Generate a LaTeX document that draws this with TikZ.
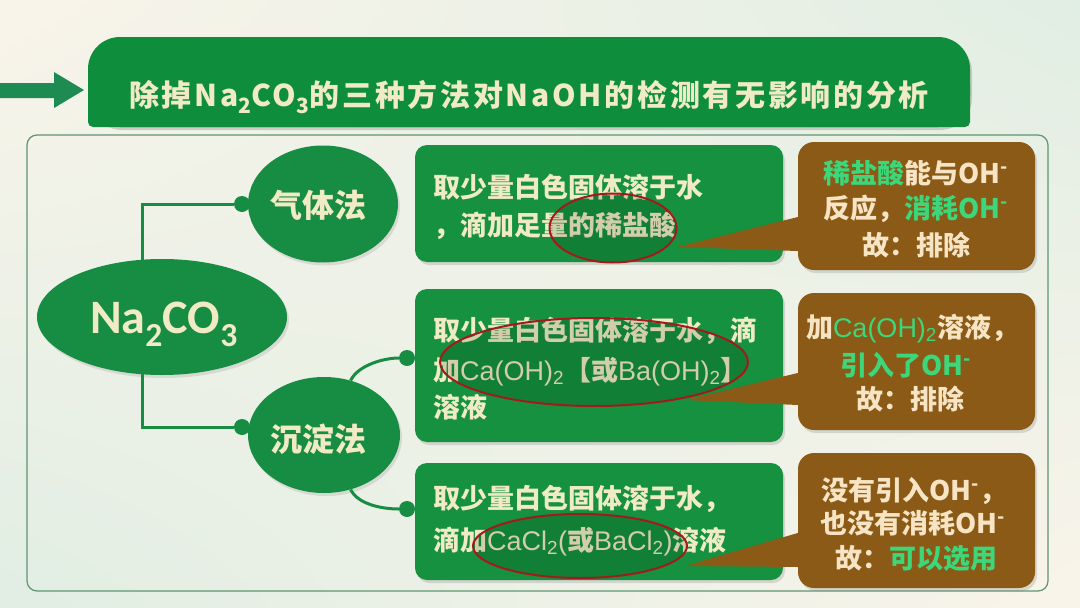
\documentclass[tikz,border=0pt]{standalone}
\usepackage{fontspec}
\setmainfont{Noto Sans CJK SC}
\newfontfamily\lat{Liberation Sans}
\newfontfamily\calfont{Carlito}
\newfontfamily\titlefont{Noto Sans CJK SC}[LetterSpace=9]
\usetikzlibrary{shapes.geometric,shadows,shadings}
\definecolor{bgCream}{HTML}{F9F4EA}
\definecolor{bgGreen}{HTML}{E1EEE3}
\definecolor{gboxc}{HTML}{15913F}
\definecolor{gdark}{HTML}{0E8E3D}
\definecolor{ell}{HTML}{178C43}
\definecolor{brn}{HTML}{8A5A16}
\definecolor{cream}{HTML}{F0EBC4}
\definecolor{ctextc}{HTML}{F6E4C4}
\definecolor{lg}{HTML}{3ED67A}
\definecolor{redc}{HTML}{A31A1A}
\definecolor{framec}{HTML}{5F9570}
\definecolor{arr}{HTML}{1E8B52}
\tikzset{
  gnode/.style={ellipse, fill=ell, inner sep=0, drop shadow={shadow xshift=2pt, shadow yshift=-3pt, opacity=0.2}},
  conn/.style={draw=ell, line width=3},
  dot/.style={circle, fill=ell, minimum size=16, inner sep=0},
  gbox/.style={rectangle, rounded corners=12, fill=gboxc, minimum width=368, inner sep=0, drop shadow={shadow xshift=2pt, shadow yshift=-3pt, opacity=0.25}},
  callout/.style={rectangle, rounded corners=16, fill=brn, minimum width=237, inner sep=0, drop shadow={shadow xshift=2pt, shadow yshift=-3pt, opacity=0.25}},
  redell/.style={ellipse, draw=redc, line width=2, fill=black, fill opacity=0.12, inner sep=0},
  wedge/.style={fill=brn},
  btext/.style={anchor=base west, text=cream, font=\bfseries\fontsize{27}{30}\selectfont, inner sep=0},
  ctext/.style={anchor=base, text=ctextc, font=\bfseries\fontsize{27}{30}\selectfont, inner sep=0, text height=20, text depth=4},
  ttext/.style={text=cream, font=\titlefont\bfseries\fontsize{30}{34}\selectfont, inner sep=0},
  etext/.style={text=cream, font=\bfseries\fontsize{32}{36}\selectfont, inner sep=0},
}
\begin{document}
\begin{tikzpicture}[x=1pt,y=-1pt]
\useasboundingbox (0,0) rectangle (1080,608);
% background
\shade[upper left=bgCream, upper right=bgGreen, lower left=bgGreen, lower right=bgCream] (0,0) rectangle (1080,608);
% arrow
\fill[arr] (0,83) -- (54,83) -- (54,72) -- (84,90) -- (54,108) -- (54,98) -- (0,98) -- cycle;
% frame
\draw[framec, line width=1.2, rounded corners=10] (27,135) rectangle (1048,591);
% title box
\begin{scope}[shift={(2,3)}]
\fill[black, opacity=0.15, rounded corners=32] (88,37) rectangle (970,127);
\end{scope}
\fill[gdark, rounded corners=32] (88,37) rectangle (970,127);
\fill[gdark, rounded corners=5] (88,80) rectangle (970,127);
\node[ttext] (title) at (529,97) {除掉Na\textsubscript{2}CO\textsubscript{3}的三种方法对NaOH的检测有无影响的分析};
% ellipses
\node[gnode, minimum width=250, minimum height=116] (na) at (162,317) {};
\node[gnode, minimum width=150, minimum height=117] (qt) at (323,204) {};
\node[gnode, minimum width=152, minimum height=116] (cd) at (324,435) {};
\node[anchor=base, text=cream, font=\calfont\bfseries\fontsize{48}{52}\selectfont, inner sep=0] (natext) at (164,333) {Na\textsubscript{2}CO\textsubscript{3}};
\node[etext] (qttext) at (318,205) {气体法};
\node[etext] (cdtext) at (318,439) {沉淀法};
% dots and connectors
\node[dot] (d1) at (242,204) {};
\node[dot] (d2) at (242,427) {};
\node[dot] (d3) at (407,358) {};
\node[dot] (d4) at (407,509) {};
\draw[conn] (na.109) |- (d1);
\draw[conn] (na.251) |- (d2);
\draw[conn] (cd.64) .. controls +(8,-16) and +(-22,0) .. (d3);
\draw[conn] (cd.-64) .. controls +(8,16) and +(-22,0) .. (d4);
% green boxes
\node[gbox, minimum height=117] (b1) at (599,203.5) {};
\node[gbox, minimum height=153] (b2) at (599,365.5) {};
\node[gbox, minimum height=117] (b3) at (599,521.5) {};
\node[btext] (b1l1) at (433,197) {取少量白色固体溶于水};
\node[btext] (b1l2) at (433,235) {，滴加足量的稀盐酸};
\node[btext] (b2l1) at (433,340) {取少量白色固体溶于水，滴};
\node[btext] (b2l2) at (433,380) {加{\lat\mdseries Ca(OH)\textsubscript{2}}【或{\lat\mdseries Ba(OH)\textsubscript{2}}】};
\node[btext] (b2l3) at (433,417) {溶液};
\node[btext] (b3l1) at (433,508) {取少量白色固体溶于水，};
\node[btext] (b3l2) at (433,550) {滴加{\lat\mdseries CaCl\textsubscript{2}(}或{\lat\mdseries BaCl\textsubscript{2})}溶液};
% red ellipses
\node[redell, minimum width=127, minimum height=69] (e1) at (613,228) {};
\node[redell, minimum width=308, minimum height=88] (e2) at (594,362) {};
\node[redell, minimum width=214, minimum height=64] (e3) at (580,546) {};
% callout pointers
\coordinate (w1a) at (677,247);
\coordinate (w2a) at (685,400);
\coordinate (w3a) at (685,566);
% callouts
\node[callout, minimum height=128] (c1) at (916.5,206) {};
\node[callout, minimum height=137] (c2) at (916.5,361.5) {};
\node[callout, minimum height=135] (c3) at (916.5,520.5) {};
\fill[wedge] (w1a) -- (c1.west |- 0,217) -- (c1.west |- 0,251) -- cycle;
\fill[wedge] (w2a) -- (c2.west |- 0,373) -- (c2.west |- 0,405) -- cycle;
\fill[wedge] (w3a) -- (c3.west |- 0,533) -- (c3.west |- 0,567) -- cycle;
% callout texts
\node[ctext] (c1l1) at (916,183) {{\color{lg}稀盐酸}能与OH\textsuperscript{-}};
\node[ctext] (c1l2) at (916,218) {反应，{\color{lg}消耗OH\textsuperscript{-}}};
\node[ctext] (c1l3) at (916,255) {故：排除};
\node[ctext] (c2l1) at (912,337) {加{\color{lg}\lat\mdseries Ca(OH)\textsubscript{2}}溶液，};
\node[ctext] (c2l2) at (906,375) {{\color{lg}引入了OH\textsuperscript{-}}};
\node[ctext] (c2l3) at (910,409) {故：排除};
\node[ctext] (c3l1) at (914,500) {没有引入OH\textsuperscript{-}，};
\node[ctext] (c3l2) at (913,533) {也没有消耗OH\textsuperscript{-}};
\node[ctext] (c3l3) at (916,568) {故：{\color{lg}可以选用}};
\end{tikzpicture}
\end{document}
